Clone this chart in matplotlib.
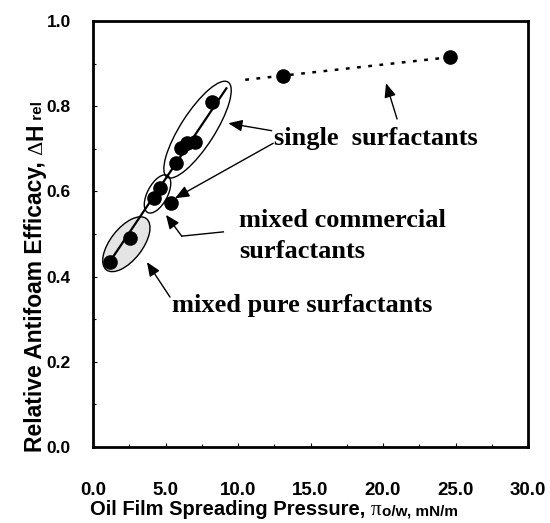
import matplotlib.pyplot as plt
from matplotlib.patches import Ellipse
from matplotlib.transforms import ScaledTranslation
from matplotlib.ticker import MultipleLocator

# data
spreading = [1.17, 2.55, 4.20, 4.62, 5.38, 5.72, 6.05, 6.46, 7.03, 8.19, 13.1, 24.6]
efficacy = [0.435, 0.490, 0.584, 0.607, 0.573, 0.667, 0.703, 0.713, 0.717, 0.811, 0.871, 0.915]

fit_x = [1.1, 9.2]          # solid trend line
fit_y = [0.432, 0.842]
dotted_x = [10.5, 24.6]     # dotted continuation
dotted_y = [0.862, 0.915]

x_ticks = [0, 5, 10, 15, 20, 25, 30]
y_ticks = [0.0, 0.2, 0.4, 0.6, 0.8, 1.0]

# group ellipses: centre (data), length, width (px), angle, fill
groups = [
    ((7.21, 0.745), 113, 34, 57.3, 'none'),
    ((4.45, 0.594), 42, 20, 62, 'none'),
    ((2.30, 0.476), 65, 32, 52, '#e4e4e4'),
]

SERIF = 'Liberation Serif'
SANS = 'Liberation Sans'

fig = plt.figure(figsize=(5.5, 5.23), dpi=100)
ax = fig.add_axes([93/550, 76/523, 435/550, 426/523])

for (cx, cy), length, width, angle, fc in groups:
    tr = fig.dpi_scale_trans + ScaledTranslation(cx, cy, ax.transData)
    ax.add_patch(Ellipse((0, 0), length/100, width/100, angle=angle, transform=tr,
                         facecolor=fc, edgecolor='black', lw=1.0, zorder=1))

ax.plot(fit_x, fit_y, color='black', lw=1.6, zorder=2)
ax.plot(dotted_x, dotted_y, color='black', lw=1.8, linestyle=(0, (1.5, 3)), zorder=2)
ax.plot(spreading, efficacy, 'o', color='black', ms=9.5, zorder=3)

ax.set_xlim(0, 30)
ax.set_ylim(0, 1.0)
ax.set_xticks(x_ticks)
ax.set_xticklabels([f'{v:.1f}' for v in x_ticks])
ax.set_yticks(y_ticks)
ax.set_yticklabels([f'{v:.1f}' for v in y_ticks])
ax.xaxis.set_minor_locator(MultipleLocator(2.5))
ax.yaxis.set_minor_locator(MultipleLocator(0.1))
ax.tick_params(which='both', direction='in', top=False, right=False, width=0.8)
ax.tick_params(which='major', length=3)
ax.tick_params(which='minor', length=2)
ax.tick_params(axis='x', pad=25)
ax.tick_params(axis='y', pad=16)
for lab in ax.get_xticklabels():
    lab.set_fontfamily(SANS)
    lab.set_fontweight('bold')
    lab.set_fontsize(13.5)
for lab in ax.get_yticklabels():
    lab.set_fontfamily(SANS)
    lab.set_fontweight('bold')
    lab.set_fontsize(12.5)
for sp in ax.spines.values():
    sp.set_linewidth(2)

# annotations
txt = dict(family=SERIF, weight='bold', fontsize=19, va='baseline', ha='left')
ax.text(12.48, 0.709, 'single  surfactants', **txt)
ax.text(10.07, 0.517, 'mixed commercial', **txt)
ax.text(10.07, 0.4437, 'surfactants', **txt)
ax.text(5.45, 0.3176, 'mixed pure surfactants', **txt)

arw = dict(arrowstyle='-|>,head_length=0.6,head_width=0.25', mutation_scale=14,
           color='black', lw=1.0, shrinkA=0, shrinkB=0)
ax.annotate('', xy=(9.33, 0.760), xytext=(12.32, 0.7425), arrowprops=arw)
ax.annotate('', xy=(5.66, 0.584), xytext=(12.43, 0.713), arrowprops=arw)
ax.plot([8.99, 6.12], [0.505, 0.495], color='black', lw=1.0)
ax.annotate('', xy=(5.03, 0.545), xytext=(6.12, 0.495), arrowprops=arw)
ax.annotate('', xy=(3.72, 0.434), xytext=(5.31, 0.352), arrowprops=arw)
ax.annotate('', xy=(20.21, 0.854), xytext=(20.97, 0.770), arrowprops=arw)

# x axis label, pieces chained along the baseline
xb = 1 - 515/523
t1 = fig.text(90/550, xb, 'Oil Film Spreading Pressure, ', family=SANS, weight='bold',
              fontsize=14.5, va='baseline', ha='left')
t2 = ax.annotate('\u03c0', xy=(1, xb), xycoords=(t1, 'figure fraction'),
                 family=SERIF, fontsize=15, va='baseline', ha='left')
ax.annotate('o/w, mN/m', xy=(1, xb), xycoords=(t2, 'figure fraction'),
            family=SANS, weight='bold', fontsize=11, va='baseline', ha='left')

# y axis label, rotated pieces chained upward
yb = 42/550
r = dict(rotation=90, rotation_mode='anchor', va='baseline', ha='left')
s1 = fig.text(yb, 1 - 452/523, 'Relative Antifoam Efficacy, ', family=SANS, weight='bold',
              fontsize=16.5, **r)
s2 = ax.annotate('\u0394', xy=(yb, 1), xycoords=('figure fraction', s1),
                 family=SERIF, fontsize=16, **r)
s3 = ax.annotate('H', xy=(yb, 1), xycoords=('figure fraction', s2),
                 family=SANS, weight='bold', fontsize=16.5, **r)
ax.annotate(' rel', xy=(yb, 1), xycoords=('figure fraction', s3),
            family=SANS, weight='bold', fontsize=11, **r)

fig.savefig('out.png', dpi=100)
